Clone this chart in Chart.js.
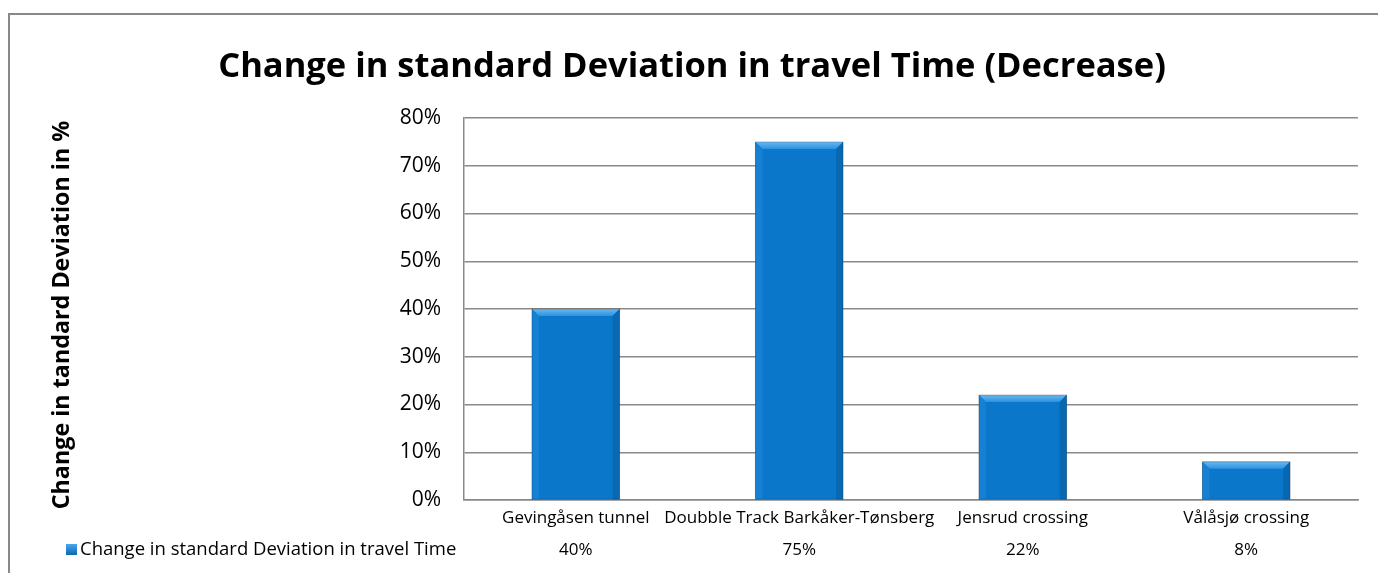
<!DOCTYPE html>
<html>
<head>
<meta charset="utf-8">
<script src="https://cdn.jsdelivr.net/npm/chart.js@4.4.1/dist/chart.umd.min.js"></script>
<style>
  html, body { margin: 0; padding: 0; background: #fff; overflow: hidden; }
  #frame { position: absolute; left: 8px; top: 13px; width: 1400px; height: 600px; border: 1px solid #888; border-width: 2px 0 0 2px; }
  #wrap { position: absolute; left: 0; top: 0; width: 1378px; height: 573px; }
</style>
</head>
<body>
<div id="frame"></div>
<div id="wrap"><canvas id="chart"></canvas></div>
<script>
const categories = ['Gevingåsen tunnel', 'Doubble Track Barkåker-Tønsberg', 'Jensrud crossing', 'Vålåsjø crossing']
const seriesName = 'Change in standard Deviation in travel Time'
const values = [40, 75, 22, 8]
const yTicks = [0, 10, 20, 30, 40, 50, 60, 70, 80]

const FONT = '"Open Sans", "DejaVu Sans", sans-serif'
const BLUE = '#0b77cb'

// pick a font size so the text spans roughly the given width
function fitFont(ctx, text, weight, width) {
  ctx.font = weight + ' 100px ' + FONT
  const size = Math.floor(100 * width / ctx.measureText(text).width * 10) / 10
  return weight + ' ' + size + 'px ' + FONT
}

// title, y-axis title and the data-table row under the axis
const extras = {
  id: 'extras',
  afterDraw(chart) {
    const ctx = chart.ctx
    const x = chart.scales.x
    const title = 'Change in standard Deviation in travel Time (Decrease)'
    const yTitle = 'Change in tandard Deviation in %'
    ctx.save()
    ctx.fillStyle = '#000'
    ctx.textAlign = 'center'
    ctx.textBaseline = 'middle'
    ctx.font = fitFont(ctx, title, 'bold', 948)
    ctx.fillText(title, 692, 67)

    ctx.save()
    ctx.translate(62, 315)
    ctx.rotate(-Math.PI / 2)
    ctx.font = fitFont(ctx, yTitle, 'bold', 390)
    ctx.fillText(yTitle, 0, 0)
    ctx.restore()

    ctx.font = '17px ' + FONT
    values.forEach((v, i) => {
      ctx.fillText(v + '%', x.getPixelForValue(i), 550)
    })
    ctx.textAlign = 'left'
    ctx.font = fitFont(ctx, seriesName, 'normal', 377)
    ctx.fillText(seriesName, 80, 550)
    // legend key
    const g = ctx.createLinearGradient(0, 544, 0, 556)
    g.addColorStop(0, '#4aa8ee')
    g.addColorStop(1, '#0762a8')
    ctx.fillStyle = g
    ctx.fillRect(66, 544, 11, 11)
    ctx.restore()
  }
}

// bevel look on the bars
const bevel = {
  id: 'bevel',
  afterDatasetsDraw(chart) {
    const ctx = chart.ctx
    const meta = chart.getDatasetMeta(0)
    ctx.save()
    meta.data.forEach(bar => {
      const l = bar.x - bar.width / 2, r = bar.x + bar.width / 2
      const t = bar.y, b = bar.base
      const d = 7
      const top = ctx.createLinearGradient(0, t, 0, t + d)
      top.addColorStop(0, '#6ab8f0')
      top.addColorStop(1, '#2b93e0')
      ctx.fillStyle = top
      ctx.beginPath()
      ctx.moveTo(l, t); ctx.lineTo(r, t); ctx.lineTo(r - d, t + d); ctx.lineTo(l + d, t + d); ctx.closePath()
      ctx.fill()
      ctx.fillStyle = '#1681d3'
      ctx.beginPath()
      ctx.moveTo(l, t); ctx.lineTo(l + d, t + d); ctx.lineTo(l + d, b); ctx.lineTo(l, b); ctx.closePath()
      ctx.fill()
      ctx.fillStyle = '#0968b2'
      ctx.beginPath()
      ctx.moveTo(r, t); ctx.lineTo(r - d, t + d); ctx.lineTo(r - d, b); ctx.lineTo(r, b); ctx.closePath()
      ctx.fill()
      ctx.strokeStyle = 'rgba(0,0,0,0.22)'
      ctx.lineWidth = 1
      ctx.strokeRect(l, t, r - l, b - t)
    })
    ctx.restore()
  }
}

new Chart(document.getElementById('chart'), {
  type: 'bar',
  data: {
    labels: categories,
    datasets: [{
      label: seriesName,
      data: values,
      backgroundColor: BLUE,
      borderWidth: 0,
      categoryPercentage: 0.8,
      barPercentage: 0.49
    }]
  },
  options: {
    responsive: true,
    maintainAspectRatio: false,
    animation: false,
    layout: { padding: { left: 384, top: 118, right: 20, bottom: 0 } },
    plugins: {
      legend: { display: false },
      title: { display: false },
      tooltip: { enabled: false }
    },
    scales: {
      x: {
        afterFit: s => { s.height = 73 },
        grid: { display: false, drawTicks: false },
        border: { color: '#888', width: 1.5 },
        ticks: {
          autoSkip: false,
          maxRotation: 0,
          minRotation: 0,
          padding: 8,
          color: '#000',
          font: { family: FONT, size: 17 }
        }
      },
      y: {
        min: 0,
        max: 80,
        afterFit: s => { s.width = 80 },
        afterBuildTicks: s => { s.ticks = yTicks.map(v => ({ value: v })) },
        grid: { color: '#8a8a8a', lineWidth: 1.5, drawTicks: false },
        border: { color: '#8a8a8a', width: 1.5 },
        ticks: {
          padding: 23,
          color: '#000',
          font: { family: FONT, size: 21 },
          callback: v => v + '%'
        }
      }
    }
  },
  plugins: [bevel, extras]
})
</script>
</body>
</html>
